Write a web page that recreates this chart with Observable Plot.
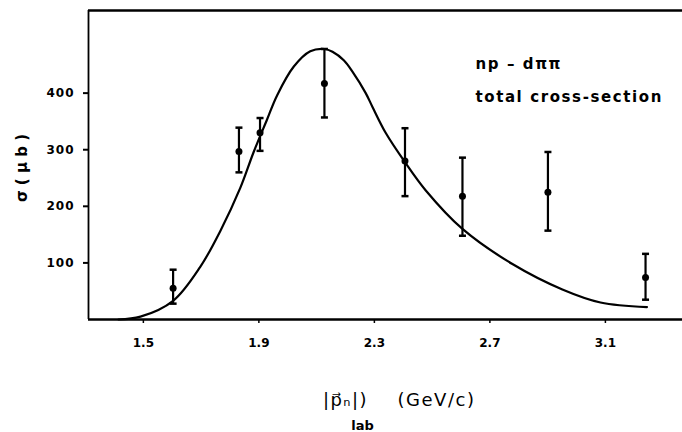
<!DOCTYPE html>
<html><head><meta charset="utf-8">
<script src="https://cdn.jsdelivr.net/npm/d3@7"></script>
<script src="https://cdn.jsdelivr.net/npm/@observablehq/plot@0.6"></script>
<style>
body{margin:0;background:#fff}
.annot text{letter-spacing:1.6px}
.ttl text{letter-spacing:1.5px}
.yax text{letter-spacing:1px}
</style>
</head><body><div id="chart"></div>
<script>
// measured points (momentum in GeV/c, cross-section in µb)
const momentum  = [1.603, 1.831, 1.904, 2.127, 2.406, 2.605, 2.901, 3.239];
const sigma     = [55, 297, 330, 417, 280, 218, 225, 74];
const sigmaLow  = [28, 260, 298, 357, 218, 148, 157, 35];
const sigmaHigh = [88, 339, 356, 478, 338, 286, 296, 116];
// theoretical curve
const curveP     = [1.414, 1.49, 1.603, 1.697, 1.767, 1.836, 1.882, 1.928, 1.963, 2.021, 2.078, 2.128, 2.155, 2.194, 2.224, 2.270, 2.293, 2.339, 2.406, 2.478, 2.605, 2.778, 2.951, 3.083, 3.244];
const curveSigma = [0, 5, 33, 93, 157, 233, 296, 353, 396, 447, 474, 478, 473, 458, 438, 400, 376, 330, 278, 228, 160, 98, 53, 30, 22];
// axes
const xTicks = [1.5, 1.9, 2.3, 2.7, 3.1];
const yTicks = [100, 200, 300, 400];
const xDomain = [1.31, 3.367];
const yDomain = [0, 546];
// annotation
const annotText = ["np – dππ", "total cross-section"];
const annotX = [2.65, 2.65];
const annotY = [452, 392];

const points = momentum.map((x, i) => ({x, y: sigma[i], lo: sigmaLow[i], hi: sigmaHigh[i]}));
const curve = curveP.map((x, i) => ({x, y: curveSigma[i]}));
const annots = annotText.map((t, i) => ({t, x: annotX[i], y: annotY[i]}));
const caps = points.flatMap(d => [{x: d.x, y: d.lo}, {x: d.x, y: d.hi}]);

const hbar = {draw(ctx, size) { const r = Math.sqrt(size / Math.PI); ctx.moveTo(-r, 0); ctx.lineTo(r, 0); }};

const font = "DejaVu Sans";
const chart = Plot.plot({
  width: 682, height: 432,
  marginLeft: 88, marginTop: 10, marginRight: 0, marginBottom: 113,
  x: {domain: xDomain},
  y: {domain: yDomain},
  style: {fontFamily: font, background: "#fff", color: "#000"},
  marks: [
    Plot.ruleY([yDomain[1]], {stroke: "#000", strokeWidth: 2.5}),
    Plot.ruleY([0], {stroke: "#000", strokeWidth: 2.5}),
    Plot.ruleX([xDomain[0]], {stroke: "#000", strokeWidth: 1.8}),
    Plot.axisY({ticks: yTicks, tickSize: 5, tickPadding: 9, fontSize: 12, fontWeight: "bold", label: null, strokeWidth: 2, className: "yax"}),
    Plot.axisX({ticks: xTicks, tickFormat: d3.format(".1f"), tickSize: 4, tickPadding: 15, fontSize: 12, fontWeight: "bold", label: null, strokeWidth: 1.5}),
    Plot.line(curve, {x: "x", y: "y", curve: "catmull-rom", stroke: "#000", strokeWidth: 2.2}),
    Plot.ruleX(points, {x: "x", y1: "lo", y2: "hi", stroke: "#000", strokeWidth: 2.2}),
    Plot.dot(caps, {x: "x", y: "y", symbol: hbar, r: 3.5, stroke: "#000", strokeWidth: 2.5, fill: "none"}),
    Plot.dot(points, {x: "x", y: "y", r: 3.5, fill: "#000", stroke: "none"}),
    Plot.text(annots, {x: "x", y: "y", text: "t", textAnchor: "start", fontSize: 15, fontWeight: "bold", className: "annot"}),
    Plot.text(["σ ( μ b )"], {frameAnchor: "left", textAnchor: "middle", lineAnchor: "middle", rotate: -90, dx: -66, dy: 3, fontSize: 15, fontWeight: "bold"}),
    Plot.text(["|p⃗ₙ|)"], {frameAnchor: "bottom", textAnchor: "middle", lineAnchor: "middle", dx: -40, dy: 81, fontSize: 18, className: "ttl"}),
    Plot.text(["(GeV/c)"], {frameAnchor: "bottom", textAnchor: "middle", lineAnchor: "middle", dx: 51, dy: 81, fontSize: 18, className: "ttl"}),
    Plot.text(["lab"], {frameAnchor: "bottom", textAnchor: "middle", lineAnchor: "middle", dx: -23, dy: 106, fontSize: 13, fontWeight: "bold"})
  ]
});
document.getElementById("chart").appendChild(chart);
</script>
</body></html>
